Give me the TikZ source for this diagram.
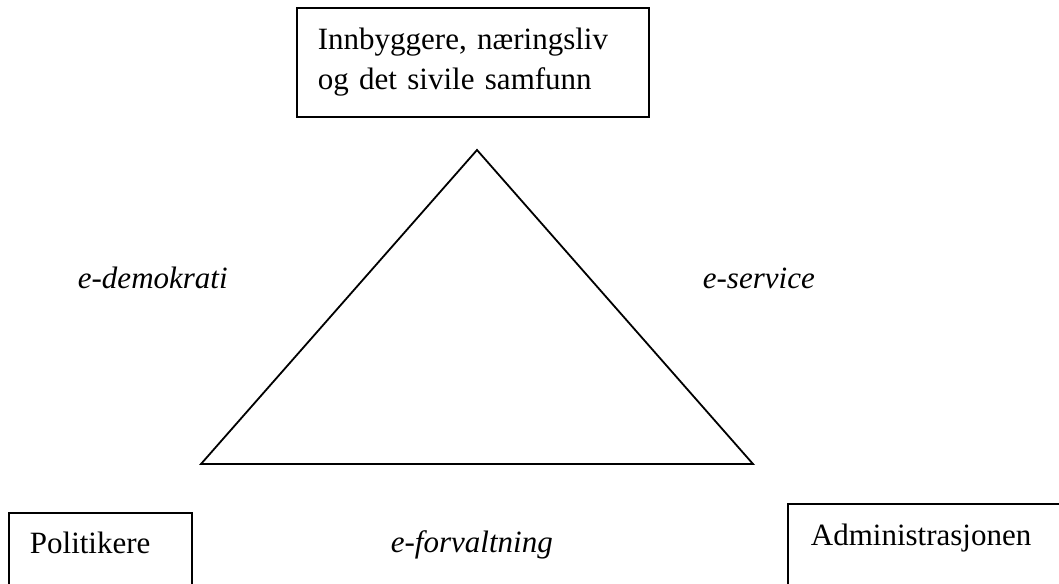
\documentclass[tikz,border=0pt]{standalone}
\usepackage{fontspec}
\setmainfont{Liberation Serif}
\begin{document}
\begin{tikzpicture}[x=1pt,y=-1pt,
  line width=1.8pt,
  every node/.style={font=\fontsize{31}{40}\selectfont},
  actorbox/.style={draw, line width=1.8pt, align=left, inner xsep=21pt},
  channel/.style={anchor=base west, inner sep=0pt, font=\fontsize{31}{40}\selectfont\itshape}]
  \useasboundingbox (0,0) rectangle (1059,583);
  \clip (0,0) rectangle (1059,583);

  % citizens at the top
  \node[actorbox, anchor=north west, text width=310pt, minimum height=109pt]
    (citizens) at (296,7) {Innbyggere, næringsliv\\og det sivile samfunn};

  % the triangle between the three actors
  \coordinate (apex) at (477,150);
  \coordinate (left) at (201,464);
  \coordinate (right) at (753,464);
  \draw[line join=miter] (apex) -- (left) -- (right) -- cycle;

  % the channels along the sides
  \node[channel] (demo) at (77,288) {e-demokrati};
  \node[channel] (serv) at (702,288) {e-service};
  \node[channel] (forv) at (390,552) {e-forvaltning};

  % actors at the bottom (boxes run past the lower edge)
  \node[actorbox, anchor=base west, text width=141pt, text height=21pt,
        text depth=60pt, inner ysep=19pt]
    (politicians) at (8,553) {Politikere};
  \node[actorbox, anchor=base west, text width=300pt, text height=21pt,
        text depth=60pt, inner ysep=20pt, inner xsep=23pt]
    (admin) at (787,545) {Administrasjonen};
\end{tikzpicture}
\end{document}
